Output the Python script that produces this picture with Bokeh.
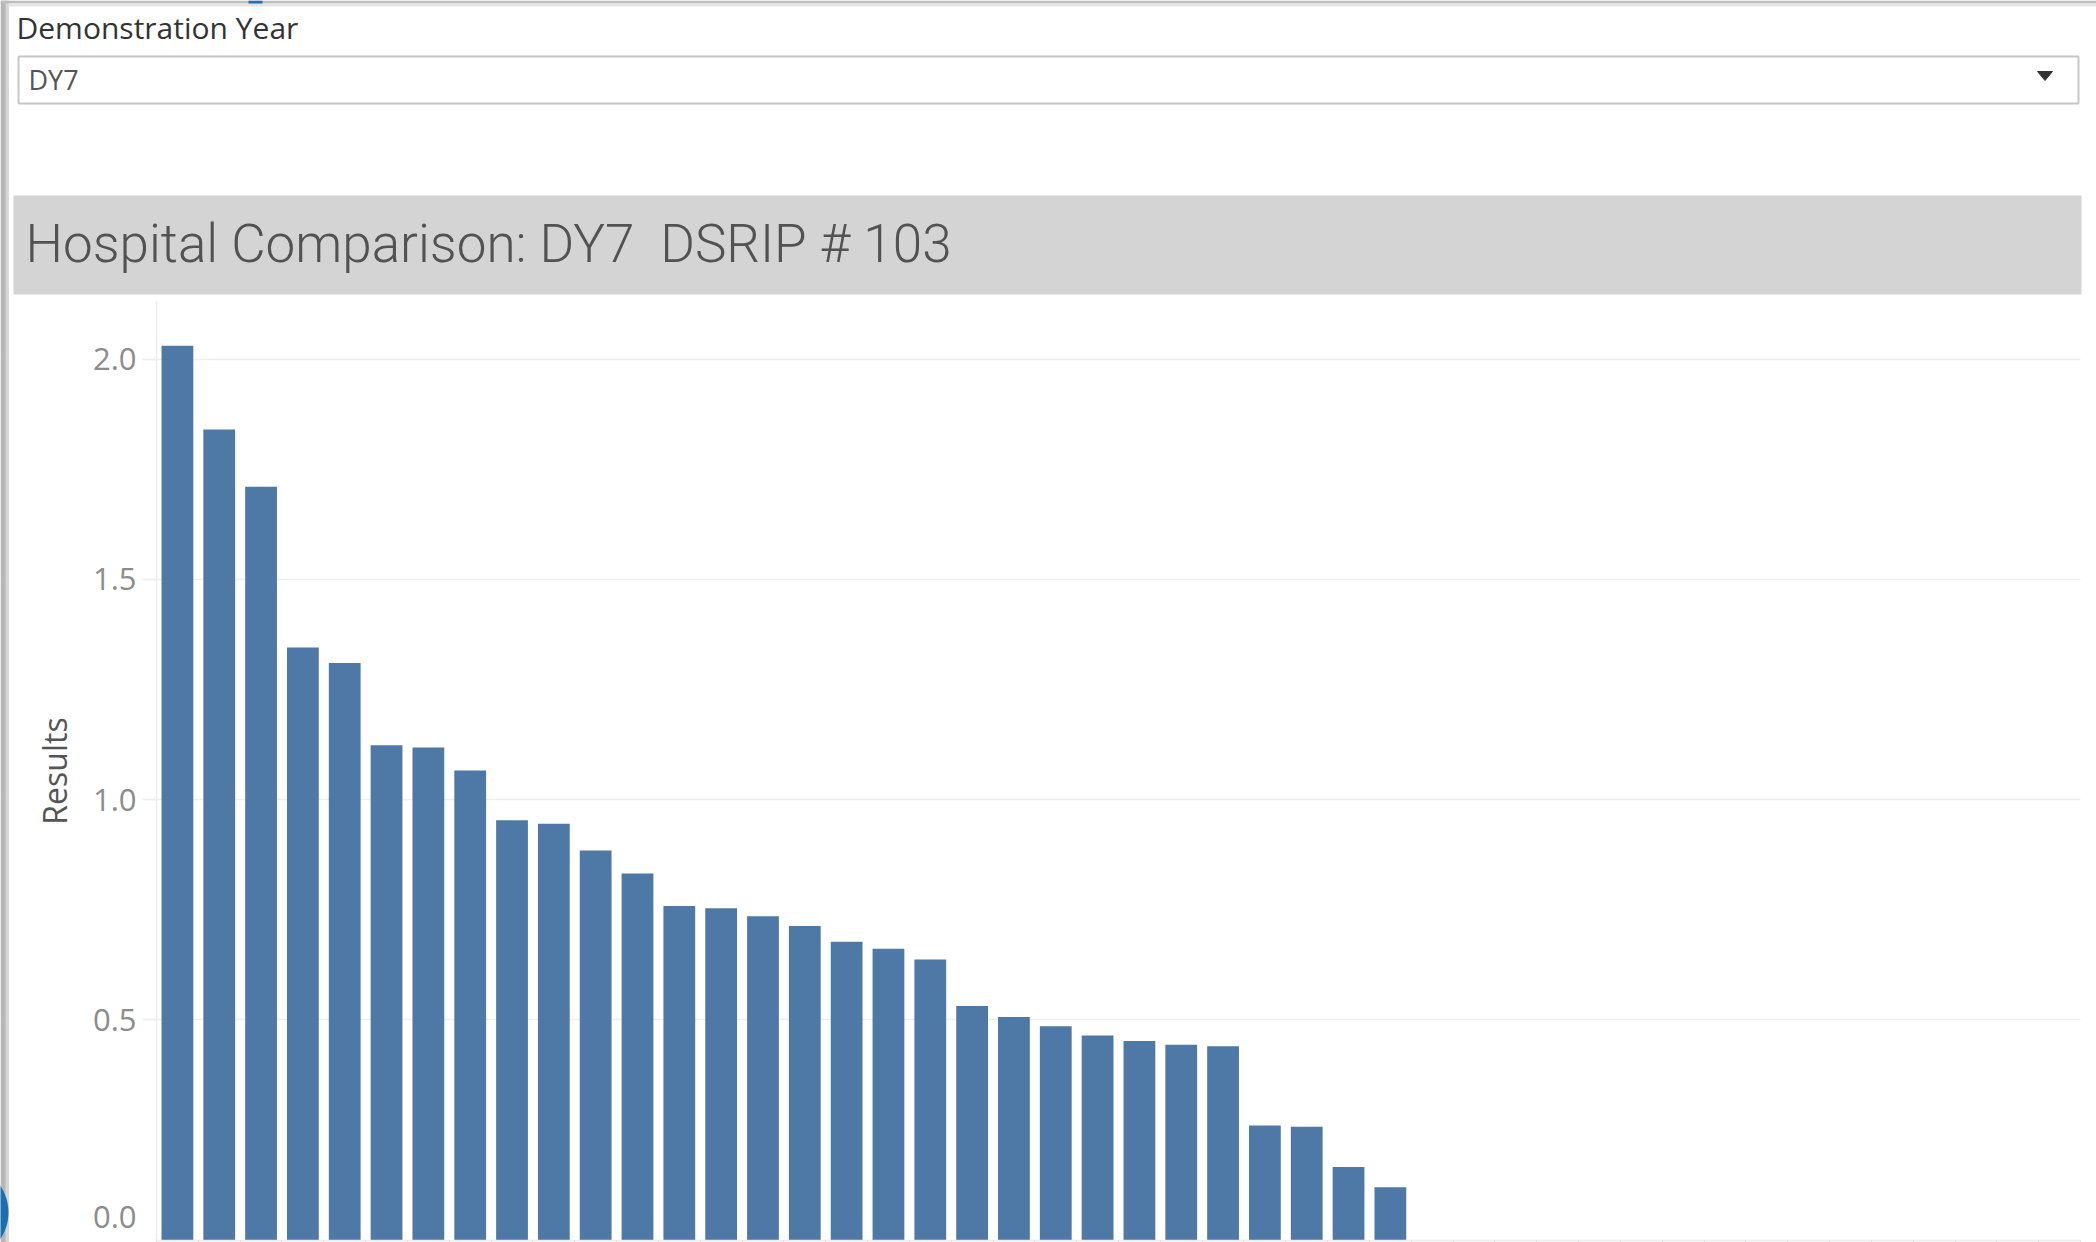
from bokeh.plotting import figure
from bokeh.models import (ColumnDataSource, Range1d, FixedTicker, LinearAxis, Grid,
                          PrintfTickFormatter)
from bokeh.embed import file_html
from bokeh.resources import INLINE
from bokeh.core.properties import value

# ---------------- data ----------------
filter_label = "Demonstration Year"
filter_value = "DY7"
chart_title = "Hospital Comparison: DY7\u00a0 DSRIP # 103"
y_axis_title = "Results"
y_tick_values = [0.0, 0.5, 1.0, 1.5, 2.0]
n_hospital_slots = 46
results = [2.03, 1.84, 1.71, 1.345, 1.31, 1.123, 1.118, 1.066, 0.953, 0.945,
           0.884, 0.832, 0.758, 0.753, 0.735, 0.713, 0.677, 0.661, 0.637, 0.531,
           0.506, 0.485, 0.464, 0.452, 0.443, 0.440, 0.260, 0.257, 0.166, 0.120]

# ---------------- geometry (page pixels) ----------------
W, H = 2096, 1242
PLOT_LEFT, PLOT_RIGHT = 156, 2080       # x of first / last slot edge
PLOT_TOP, ZERO_Y = 301, 1239.5          # y of plot top / zero baseline
PX_PER_UNIT = 440.5
slot_px = (PLOT_RIGHT - PLOT_LEFT) / n_hospital_slots
x_start = -0.5 - PLOT_LEFT / slot_px
x_end = -0.5 + (W - PLOT_LEFT) / slot_px
y_start = -(H - ZERO_Y) / PX_PER_UNIT
y_end = ZERO_Y / PX_PER_UNIT
y_top = (ZERO_Y - PLOT_TOP) / PX_PER_UNIT

BAR_COLOR = "#4e79a7"
TICK_COLOR = "#8c8c8c"
TICK_FONT_SIZE = "31px"

p = figure(width=W, height=H, x_range=Range1d(x_start, x_end), y_range=Range1d(y_start, y_end),
           x_axis_location=None, y_axis_location=None, toolbar_location=None,
           output_backend="svg", min_border=0, outline_line_color=None,
           background_fill_color="white", border_fill_color="white")
p.center = [r for r in p.center if not isinstance(r, Grid)]
p.extra_x_ranges = {"px": Range1d(0, W)}
p.extra_y_ranges = {"py": Range1d(H, 0)}
PX = dict(x_range_name="px", y_range_name="py")

# horizontal gridlines
p.add_layout(Grid(dimension=1, ticker=FixedTicker(ticks=y_tick_values[1:]),
                  grid_line_color="#eeeeee", grid_line_width=1.5), "center")

# masks that end the gridlines at the plot edges
p.quad(left=[0], right=[142], top=[PLOT_TOP - 2], bottom=[H], fill_color="white", line_color=None, **PX)
p.quad(left=[PLOT_RIGHT], right=[W], top=[PLOT_TOP - 2], bottom=[H], fill_color="white", line_color=None, **PX)

# dashboard chrome: left edge, top shadow, small blue marks
p.quad(left=[0], right=[8], top=[0], bottom=[H], fill_color="#b7b7b7", line_color=None, **PX)
p.quad(left=[5], right=[8], top=[0], bottom=[H], fill_color="#d6d6d6", line_color=None, **PX)
p.quad(left=[0], right=[W], top=[0], bottom=[3], fill_color="#bdbdbd", line_color=None, **PX)
p.quad(left=[8], right=[W], top=[3], bottom=[6], fill_color="#e4e4e4", line_color=None, **PX)
p.quad(left=[248], right=[262], top=[0], bottom=[3], fill_color="#1f6fb2", line_color=None, **PX)
p.ellipse(x=[-40], y=[1212], width=96, height=96, fill_color="#1b6fae", line_color=None, **PX)

# filter control
p.text(x=[16], y=[27], text=[filter_label], text_font=value("Open Sans"),
       text_font_size="30px", text_color="#333333", text_baseline="middle", **PX)
p.quad(left=[18], right=[2078], top=[56], bottom=[103], fill_color="white",
       line_color="#c6c6c6", line_width=2, **PX)
p.text(x=[28], y=[79], text=[filter_value], text_font=value("Open Sans"),
       text_font_size="27px", text_color="#555555", text_baseline="middle", **PX)
p.patch(x=[2037, 2052, 2044.5], y=[71, 71, 80], fill_color="#333333", line_color="#333333", **PX)

# title bar
p.quad(left=[13], right=[2081], top=[195], bottom=[294], fill_color="#d4d4d4", line_color=None, **PX)
p.text(x=[25], y=[243], text=[chart_title], text_font=value("Roboto Light"),
       text_font_size="53px", text_color="#525252", text_baseline="middle", **PX)

# bars
src = ColumnDataSource(dict(pos=list(range(len(results))), result=results))
p.vbar(x="pos", top="result", bottom=0, width=0.76, source=src,
       fill_color=BAR_COLOR, line_color=None)

# y axis
ya = LinearAxis(fixed_location=-0.5, bounds=(0, y_top),
                ticker=FixedTicker(ticks=y_tick_values[1:]),
                formatter=PrintfTickFormatter(format="%.1f"))
ya.axis_line_color = "#ebebeb"
ya.axis_line_width = 1.5
ya.major_tick_out = 14
ya.major_tick_in = 0
ya.major_tick_line_color = "#eeeeee"
ya.major_tick_line_width = 1.5
ya.minor_tick_line_color = None
ya.major_label_text_font = "Open Sans"
ya.major_label_text_font_size = TICK_FONT_SIZE
ya.major_label_text_color = TICK_COLOR
ya.major_label_standoff = 6
ya.axis_label = y_axis_title
ya.axis_label_text_font = "Open Sans"
ya.axis_label_text_font_size = "32px"
ya.axis_label_text_font_style = "normal"
ya.axis_label_text_color = "#555555"
ya.axis_label_standoff = 14
p.add_layout(ya, "left")

# zero tick label, lifted inside the chart as in the reference
p.text(x=[-0.5], y=[y_tick_values[0] + 23.5 / PX_PER_UNIT], x_offset=-20,
       text=["%.1f" % y_tick_values[0]], text_font=value("Open Sans"),
       text_font_size=TICK_FONT_SIZE, text_color=TICK_COLOR, text_align="right",
       text_baseline="middle")

# x axis: category separators only
xa = LinearAxis(fixed_location=0, bounds=(-0.5, n_hospital_slots - 0.5),
                ticker=FixedTicker(ticks=[i - 0.5 for i in range(n_hospital_slots + 1)]))
xa.major_label_text_color = None
xa.axis_line_color = "#ececec"
xa.axis_line_width = 1.5
xa.major_tick_out = 4
xa.major_tick_in = 0
xa.major_tick_line_color = "#e2e2e2"
xa.minor_tick_line_color = None
p.add_layout(xa, "below")

open("out.html", "w").write(file_html(p, INLINE))
